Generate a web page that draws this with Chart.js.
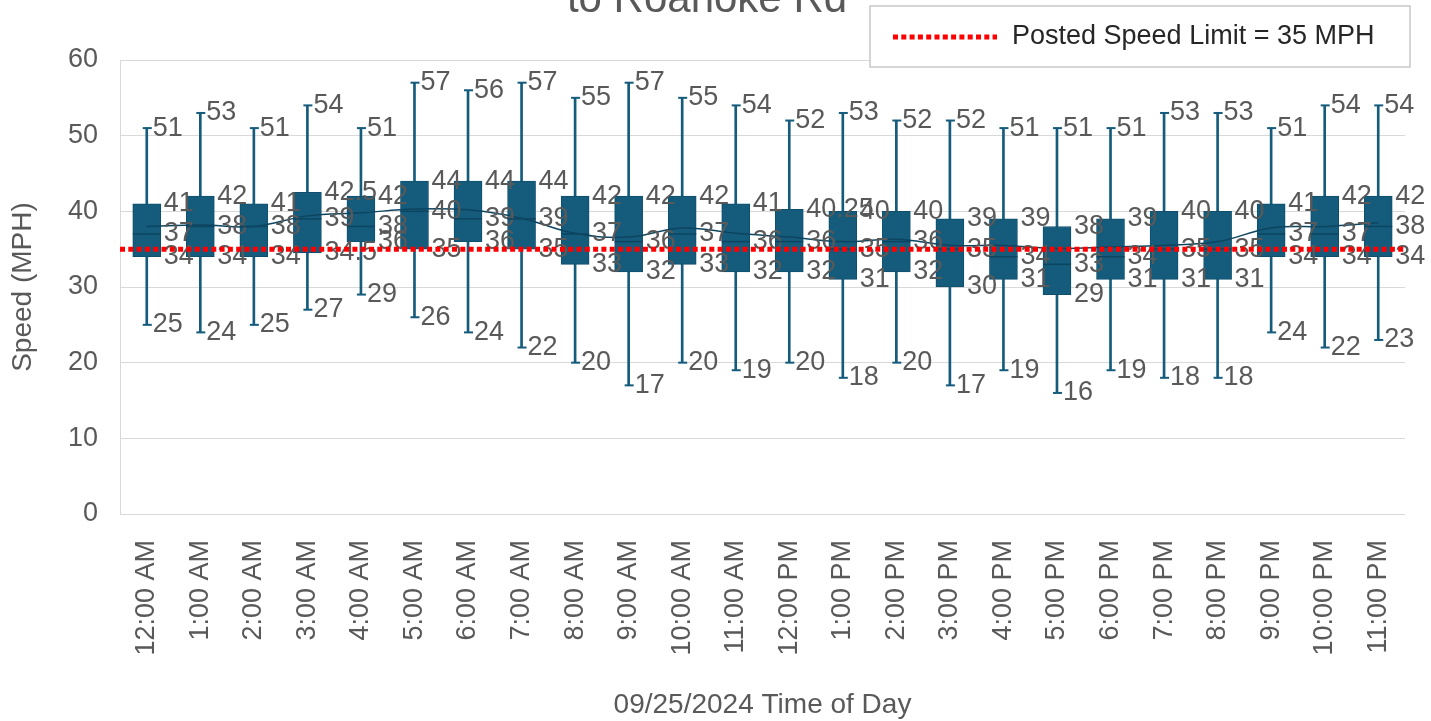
<!DOCTYPE html>
<html>
<head>
<meta charset="utf-8">
<script src="https://cdn.jsdelivr.net/npm/chart.js@4/dist/chart.umd.min.js"></script>
<style>
    html, body { margin: 0; padding: 0; background: #fff; }
    #wrap { width: 1431px; height: 721px; position: relative; }
</style>
</head>
<body>
<div id="wrap"><canvas id="speedChart" width="1431" height="721"></canvas></div>
<script>
const hours = ["12:00 AM", "1:00 AM", "2:00 AM", "3:00 AM", "4:00 AM", "5:00 AM", "6:00 AM", "7:00 AM",
    "8:00 AM", "9:00 AM", "10:00 AM", "11:00 AM", "12:00 PM", "1:00 PM", "2:00 PM", "3:00 PM",
    "4:00 PM", "5:00 PM", "6:00 PM", "7:00 PM", "8:00 PM", "9:00 PM", "10:00 PM", "11:00 PM"];
const minSpeed    = [25, 24, 25, 27, 29, 26, 24, 22, 20, 17, 20, 19, 20, 18, 20, 17, 19, 16, 19, 18, 18, 24, 22, 23];
const q1Speed     = [34, 34, 34, 34.5, 36, 35, 36, 35, 33, 32, 33, 32, 32, 31, 32, 30, 31, 29, 31, 31, 31, 34, 34, 34];
const medianSpeed = [37, 38, 38, 39, 38, 40, 39, 39, 37, 36, 37, 36, 36, 35, 36, 35, 34, 33, 34, 35, 35, 37, 37, 38];
const q3Speed     = [41, 42, 41, 42.5, 42, 44, 44, 44, 42, 42, 42, 41, 40.25, 40, 40, 39, 39, 38, 39, 40, 40, 41, 42, 42];
const maxSpeed    = [51, 53, 51, 54, 51, 57, 56, 57, 55, 57, 55, 54, 52, 53, 52, 52, 51, 51, 51, 53, 53, 51, 54, 54];
const meanSpeed   = [38, 38.2, 38, 39.4, 39.8, 40.3, 40.2, 39.1, 37.1, 36.6, 37.8, 37.1, 36.6, 36, 36.3, 35.5,
    35.5, 35.1, 35.3, 35.5, 36, 37.8, 38, 38.5];
const speedLimit = 35;
const legendText = "Posted Speed Limit = 35 MPH";

const boxColor = "#145b7c";
const darkLine = "#0d4560";
const labelColor = "#595959";

// medians, whisker caps, data labels, limit line, legend and title
const boxExtras = {
    id: "boxExtras",
    afterDatasetsDraw(chart) {
        const ctx = chart.ctx;
        const x = chart.scales.x;
        const y = chart.scales.y;
        const area = chart.chartArea;
        const boxMeta = chart.getDatasetMeta(1);

        ctx.save();
        hours.forEach((h, i) => {
            const cx = x.getPixelForValue(i);
            const bar = boxMeta.data[i];
            const half = bar.width / 2;

            // median line
            ctx.strokeStyle = darkLine;
            ctx.lineWidth = 1.5;
            ctx.beginPath();
            ctx.moveTo(cx - half, y.getPixelForValue(medianSpeed[i]));
            ctx.lineTo(cx + half, y.getPixelForValue(medianSpeed[i]));
            ctx.stroke();

            // whisker caps
            ctx.strokeStyle = boxColor;
            ctx.lineWidth = 2;
            [minSpeed[i], maxSpeed[i]].forEach(v => {
                ctx.beginPath();
                ctx.moveTo(cx - 4, y.getPixelForValue(v));
                ctx.lineTo(cx + 5, y.getPixelForValue(v));
                ctx.stroke();
            });

            // labels
            ctx.fillStyle = labelColor;
            ctx.font = "27px 'Liberation Sans', Arial, sans-serif";
            ctx.textBaseline = "middle";
            ctx.textAlign = "left";
            ctx.fillText(String(maxSpeed[i]), cx + 6, y.getPixelForValue(maxSpeed[i]));
            ctx.fillText(String(minSpeed[i]), cx + 6, y.getPixelForValue(minSpeed[i]));
            ctx.fillText(String(q3Speed[i]), cx + half + 3, y.getPixelForValue(q3Speed[i]));
            ctx.fillText(String(medianSpeed[i]), cx + half + 3, y.getPixelForValue(medianSpeed[i]));
            ctx.fillText(String(q1Speed[i]), cx + half + 3, y.getPixelForValue(q1Speed[i]));
        });

        // posted speed limit
        const ly = y.getPixelForValue(speedLimit);
        ctx.strokeStyle = "#ff0000";
        ctx.lineWidth = 5;
        ctx.setLineDash([5, 3.3]);
        ctx.beginPath();
        ctx.moveTo(area.left, ly);
        ctx.lineTo(area.right, ly);
        ctx.stroke();

        // legend box
        ctx.setLineDash([]);
        ctx.fillStyle = "#ffffff";
        ctx.fillRect(870, 6, 540, 61);
        ctx.strokeStyle = "#c8c8c8";
        ctx.lineWidth = 1.5;
        ctx.strokeRect(870, 6, 540, 61);
        ctx.strokeStyle = "#ff0000";
        ctx.lineWidth = 5;
        ctx.setLineDash([5, 3.3]);
        ctx.beginPath();
        ctx.moveTo(893, 37);
        ctx.lineTo(997, 37);
        ctx.stroke();
        ctx.setLineDash([]);
        ctx.fillStyle = "#262626";
        ctx.font = "27px 'Liberation Sans', Arial, sans-serif";
        ctx.textAlign = "left";
        ctx.textBaseline = "middle";
        ctx.fillText(legendText, 1012, 37);

        // title, mostly cut off at the top edge
        ctx.fillStyle = labelColor;
        ctx.font = "42px 'Liberation Sans', Arial, sans-serif";
        ctx.textAlign = "center";
        ctx.textBaseline = "alphabetic";
        ctx.fillText("to Roanoke Rd", 707, 12);
        ctx.restore();
    }
};

const ctx = document.getElementById("speedChart").getContext("2d");
new Chart(ctx, {
    data: {
        labels: hours,
        datasets: [
            {
                type: "bar",
                label: "Whisker",
                data: hours.map((h, i) => [minSpeed[i], maxSpeed[i]]),
                backgroundColor: boxColor,
                barThickness: 2,
                grouped: false,
                order: 3
            },
            {
                type: "bar",
                label: "Box",
                data: hours.map((h, i) => [q1Speed[i], q3Speed[i]]),
                backgroundColor: boxColor,
                borderColor: "#0f4f6d",
                borderWidth: 1,
                borderSkipped: false,
                barThickness: 28,
                grouped: false,
                order: 2
            },
            {
                type: "line",
                label: "Mean",
                data: meanSpeed,
                borderColor: darkLine,
                borderWidth: 1.5,
                tension: 0.4,
                pointRadius: 0,
                order: 1
            }
        ]
    },
    options: {
        responsive: false,
        animation: false,
        layout: { padding: { top: 60, right: 26, left: 0, bottom: 0 } },
        plugins: {
            legend: { display: false },
            tooltip: { enabled: false }
        },
        scales: {
            x: {
                afterFit: s => { s.height = 207; s.paddingLeft = 0; s.paddingRight = 0; },
                grid: { display: false, drawTicks: false },
                border: { display: false },
                ticks: {
                    minRotation: 90,
                    maxRotation: 90,
                    padding: 26,
                    color: labelColor,
                    font: { family: "'Liberation Sans', Arial, sans-serif", size: 27 }
                },
                title: {
                    display: true,
                    text: "09/25/2024 Time of Day",
                    color: labelColor,
                    padding: { top: 0, bottom: 0 },
                    font: { family: "'Liberation Sans', Arial, sans-serif", size: 28, lineHeight: 1.1 }
                }
            },
            y: {
                min: 0,
                max: 60,
                afterFit: s => { s.width = 120; },
                grid: { color: "#d9d9d9", lineWidth: 1, drawTicks: false },
                border: { color: "#d9d9d9" },
                ticks: {
                    stepSize: 10,
                    padding: 22,
                    color: labelColor,
                    font: { family: "'Liberation Sans', Arial, sans-serif", size: 27 }
                },
                title: {
                    display: true,
                    text: "Speed (MPH)",
                    color: labelColor,
                    padding: { top: 6, bottom: 0 },
                    font: { family: "'Liberation Sans', Arial, sans-serif", size: 28, lineHeight: 1.2 }
                }
            }
        }
    },
    plugins: [boxExtras]
});
</script>
</body>
</html>
